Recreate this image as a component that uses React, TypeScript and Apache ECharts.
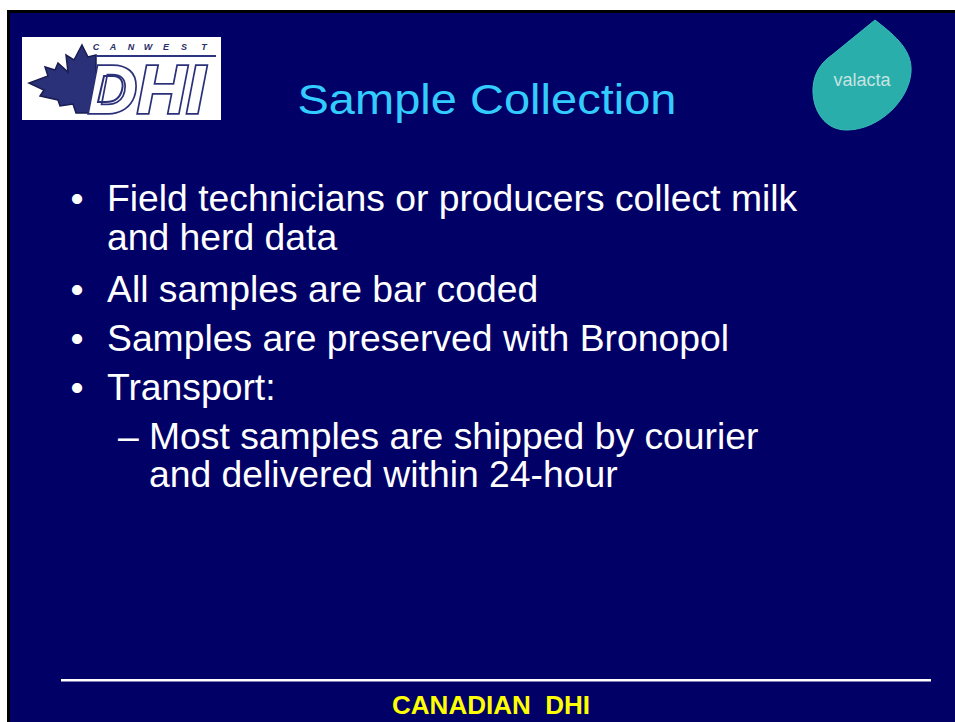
import React, { useEffect, useRef } from "react";
import * as echarts from "echarts";

// Slide content
const titleText = "Sample Collection";
const bulletLines = [
  "Field technicians or producers collect milk",
  "and herd data",
  "All samples are bar coded",
  "Samples are preserved with Bronopol",
  "Transport:",
];
const bulletHasMarker = [true, false, true, true, true];
const bulletCenters = [198, 237, 289, 338, 387];
const subLines = ["Most samples are shipped by courier", "and delivered within 24-hour"];
const subHasMarker = [true, false];
const subCenters = [436, 474];
const footerText = "CANADIAN  DHI";
const canwestLetters = ["C", "A", "N", "W", "E", "S", "T"];

const DROP_D =
  "M875,20 C890,32 913,48 911,72 C909,100 880,129 848,130 C825,131 812,110 813,88 C814,72 822,62 832,55 L875,20 Z";
const D_HOLE =
  "M104,76 L113,76 C121,76 124,82 122,90 C120,98 114,102 106,102 L98,102 Z";

export default function App() {
  const ref = useRef<HTMLDivElement>(null);
  useEffect(() => {
    if (!ref.current) return;
    echarts.graphic.registerShape("valactaDrop", echarts.graphic.extendPath(DROP_D, {}));
    echarts.graphic.registerShape("dHole", echarts.graphic.extendPath(D_HOLE, {}));
    const chart = echarts.init(ref.current, null, { renderer: "svg" });
    const FONT = "Liberation Sans, Arial, sans-serif";
    const SIZE = 37.3;
    const body: any[] = [];
    bulletLines.forEach((t, i) => {
      if (bulletHasMarker[i]) {
        body.push({
          type: "text",
          x: 77,
          y: bulletCenters[i],
          style: { text: "\u2022", fill: "#ffffff", fontSize: SIZE, fontFamily: FONT, textAlign: "center", textVerticalAlign: "middle" },
        });
      }
      body.push({
        type: "text",
        x: 107,
        y: bulletCenters[i],
        style: { text: t, fill: "#ffffff", fontSize: SIZE, fontFamily: FONT, textAlign: "left", textVerticalAlign: "middle" },
      });
    });
    subLines.forEach((t, i) => {
      if (subHasMarker[i]) {
        body.push({
          type: "text",
          x: 118,
          y: subCenters[i],
          style: { text: "\u2013", fill: "#ffffff", fontSize: SIZE, fontFamily: FONT, textAlign: "left", textVerticalAlign: "middle" },
        });
      }
      body.push({
        type: "text",
        x: 149,
        y: subCenters[i],
        style: { text: t, fill: "#ffffff", fontSize: SIZE, fontFamily: FONT, textAlign: "left", textVerticalAlign: "middle" },
      });
    });

    const canwestX = [96, 113, 131, 148, 166, 184, 204];
    const canwest = canwestLetters.map((c, i) => ({
      type: "text",
      x: canwestX[i],
      y: 47,
      style: { text: c, fill: "#2a2f66", fontSize: 9, lineHeight: 9, fontWeight: "bold", fontStyle: "italic", fontFamily: FONT, textAlign: "center", textVerticalAlign: "middle" },
    }));

    chart.setOption({
      animation: false,
      backgroundColor: "#ffffff",
      graphic: {
        elements: [
          { type: "rect", shape: { x: 7, y: 10, width: 948, height: 712 }, style: { fill: "#000000" } },
          { type: "rect", shape: { x: 10, y: 13, width: 945, height: 709 }, style: { fill: "#000066" } },
          // left logo
          { type: "rect", shape: { x: 22, y: 37, width: 199, height: 83 }, style: { fill: "#ffffff" } },
          {
            type: "polygon",
            shape: {
              points: [
                [82, 45], [88, 57], [96, 55], [96, 113], [76, 113], [73, 104], [60, 106], [58, 100],
                [40, 96], [44, 90], [29, 83], [48, 76], [45, 67], [55, 70], [58, 63], [68, 72], [66, 55], [74, 60],
              ],
            },
            style: { fill: "#2b3178", stroke: "#191d50", lineWidth: 1.5 },
          },
          ...canwest,
          {
            type: "line",
            shape: { x1: 96, y1: 56, x2: 216, y2: 56 },
            style: { stroke: "#2d3582", lineWidth: 2 },
          },
          {
            type: "text",
            x: 88,
            y: 89,
            style: {
              text: "DHI",
              fill: "#ffffff",
              stroke: "#2b3178",
              lineWidth: 3.5,
              fontSize: 68,
              lineHeight: 52,
              fontWeight: 900,
              fontStyle: "italic",
              fontFamily: FONT,
              textAlign: "left",
              textVerticalAlign: "middle",
            },
          },
          { type: "dHole", x: 0, y: 0, style: { fill: "none", stroke: "#2b3178", lineWidth: 2 } },
          // right logo
          { type: "valactaDrop", x: 0, y: 0, style: { fill: "#2aaeac", stroke: "#39bcb8", lineWidth: 1 } },
          {
            type: "text",
            x: 862,
            y: 80,
            style: { text: "valacta", fill: "#c6e4e1", fontSize: 18, fontFamily: FONT, textAlign: "center", textVerticalAlign: "middle" },
          },
          // title
          {
            type: "text",
            x: 487,
            y: 99,
            scaleX: 1.12,
            style: { text: titleText, fill: "#33ccff", fontSize: 42, fontFamily: FONT, textAlign: "center", textVerticalAlign: "middle" },
          },
          ...body,
          // footer
          { type: "rect", shape: { x: 61, y: 679, width: 870, height: 2.5 }, style: { fill: "#ffffff" } },
          {
            type: "text",
            x: 491,
            y: 705,
            style: { text: footerText, fill: "#ffff00", fontSize: 26, fontWeight: "bold", fontFamily: FONT, textAlign: "center", textVerticalAlign: "middle" },
          },
        ],
      },
    });
    return () => chart.dispose();
  }, []);
  return <div ref={ref} style={{ position: "fixed", left: 0, top: 0, width: 955, height: 722 }} />;
}
